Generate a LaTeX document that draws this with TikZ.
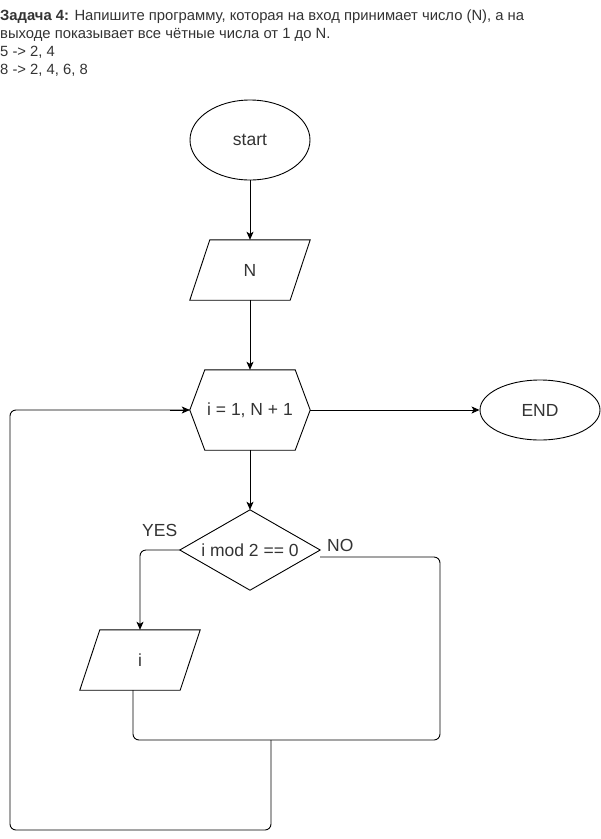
\documentclass[tikz,border=0pt]{standalone}
\usepackage{fontspec}
\setmainfont{Liberation Sans}
\usetikzlibrary{shapes.geometric,calc,arrows.meta}
\definecolor{txt}{HTML}{333333}
\begin{document}
\begin{tikzpicture}[x=1pt,y=-1pt,
  every node/.style={text=txt,font=\fontsize{17.5}{20}\selectfont},
  shape line/.style={draw=black,line width=0.9pt},
  flow/.style={draw=black,line width=0.9pt,-{Stealth[length=8pt,width=7pt,inset=2pt]}},
  link/.style={draw=black,line width=0.9pt,rounded corners=6pt},
  term/.style={shape=ellipse,shape line,inner sep=0pt},
  boxarea/.style={inner sep=0pt,minimum width=#1},
  lbl/.style={inner sep=0pt,anchor=base west},
  task/.style={lbl,font=\fontsize{14.8}{18}\selectfont}]
\useasboundingbox (0,0) rectangle (601,839);

% task statement
\node[task] (title) at (0,20.5)
  {\textbf{Задача 4:} Напишите программу, которая на вход принимает число (N), а на};
\node[task] (line2) at (0,38.5) {выходе показывает все чётные числа от 1 до N.};
\node[task] (line3) at (0,56.5) {5 -> 2, 4};
\node[task] (line4) at (0,74.5) {8 -> 2, 4, 6, 8};

% terminators
\node[term,minimum width=120pt,minimum height=80pt] (start) at (250,140) {start};
\node[term,minimum width=120pt,minimum height=60pt] (end) at (540,410) {END};

% input of N (parallelogram drawn around a 100x60 frame)
\node[boxarea=100pt,minimum height=60pt] (inN) at (250,270) {N};
\draw[shape line] ($(inN.south west)+(-10,0)$) -- ($(inN.south east)+(-10,0)$)
  -- ($(inN.north east)+(10,0)$) -- ($(inN.north west)+(10,0)$) -- cycle;

% loop header (hexagon)
\node[boxarea=120pt,minimum height=80pt] (loop) at (250,410) {i = 1, N + 1};
\draw[shape line] (loop.west) -- ($(loop.north west)+(15,0)$) -- ($(loop.north east)+(-15,0)$)
  -- (loop.east) -- ($(loop.south east)+(-15,0)$) -- ($(loop.south west)+(15,0)$) -- cycle;

% condition (rhombus spanning a 140x80 frame)
\node[boxarea=140pt,minimum height=80pt] (cond) at (250,550) {i mod 2 == 0};
\draw[shape line] (cond.north) -- (cond.east) -- (cond.south) -- (cond.west) -- cycle;

% output of i
\node[boxarea=100pt,minimum height=60pt] (outI) at (140,660) {i};
\draw[shape line] ($(outI.south west)+(-10,0)$) -- ($(outI.south east)+(-10,0)$)
  -- ($(outI.north east)+(10,0)$) -- ($(outI.north west)+(10,0)$) -- cycle;

% branch labels
\node[lbl] (yes) at (142,536) {YES};
\node[lbl] (no) at (327,551) {NO};

% joints of the return paths
\coordinate (joinR) at (440,740);
\coordinate (joinM) at (271,740);
\coordinate (back) at (10,830);

% main flow
\draw[flow] (start.south) -- (inN.north);
\draw[flow] (inN.south) -- (loop.north);
\draw[flow] (loop.east) -- (end.west);
\draw[flow] (loop.south) -- (cond.north);
\draw[flow,rounded corners=6pt] (cond.west) -| (outI.north);

% return paths
\draw[link] ($(outI.south)+(-7,0)$) |- (joinR) |- ($(cond.east)+(0,7)$);
\draw[link] (joinM) |- (back) |- (loop.west);
\draw[flow] ($(loop.west)+(-20,0)$) -- (loop.west);
\end{tikzpicture}
\end{document}
